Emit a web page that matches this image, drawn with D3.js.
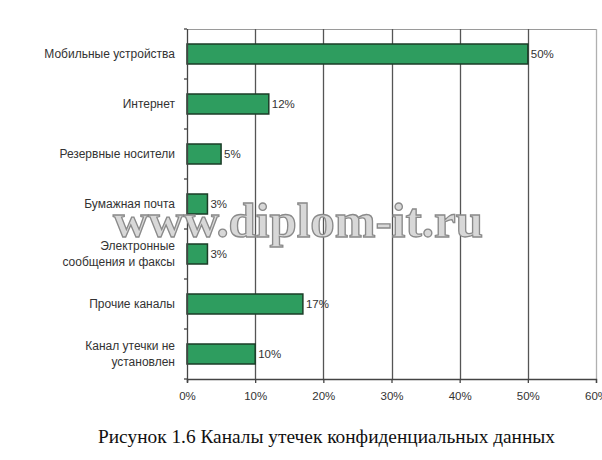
<!DOCTYPE html>
<html><head><meta charset="utf-8">
<script src="https://cdn.jsdelivr.net/npm/d3@7"></script>
<style>
html,body{margin:0;padding:0;background:#fff;}
svg{display:block;}
</style></head>
<body>
<svg id="c" width="602" height="460"></svg>
<script>
const categories = [
  ["Мобильные устройства"],
  ["Интернет"],
  ["Резервные носители"],
  ["Бумажная почта"],
  ["Электронные", "сообщения и факсы"],
  ["Прочие каналы"],
  ["Канал утечки не", "установлен"]
];
const values = [50, 12, 5, 3, 3, 17, 10];
const tickValues = [0, 10, 20, 30, 40, 50, 60];
const tickLabels = ["0%", "10%", "20%", "30%", "40%", "50%", "60%"];
const caption = "Рисунок 1.6 Каналы утечек конфиденциальных данных";
const watermark = "www.diplom-it.ru";

const svg = d3.select("#c");
const m = {left:187, top:29, right:596, bottom:379};
const x = d3.scaleLinear().domain([0, 60]).range([m.left, m.right]);
const y = d3.scaleBand().domain(d3.range(categories.length)).range([m.top, m.bottom]).paddingInner(0.6).paddingOuter(0.3);
const yb = d3.scaleBand().domain(d3.range(categories.length)).range([m.top, m.bottom]);
const sans = "Liberation Sans, Arial, sans-serif";

// top border
svg.append("line").attr("x1", m.left).attr("x2", m.right).attr("y1", m.top+0.5).attr("y2", m.top+0.5)
  .attr("stroke", "#9a9a9a").attr("stroke-width", 1.2);
// gridlines
svg.append("g").selectAll("line").data(tickValues.slice(1)).join("line")
  .attr("x1", d => Math.round(x(d))+0.5).attr("x2", d => Math.round(x(d))+0.5)
  .attr("y1", m.top).attr("y2", m.bottom)
  .attr("stroke", d => d === 60 ? "#b0b0b0" : "#555")
  .attr("stroke-width", 1.3);

// bars
svg.append("g").selectAll("rect").data(values).join("rect")
  .attr("x", x(0)).attr("y", (d,i) => y(i))
  .attr("width", d => x(d) - x(0)).attr("height", y.bandwidth())
  .attr("fill", "#2e9d5f").attr("stroke", "#1b3d27").attr("stroke-width", 1.5);

// value labels
svg.append("g").selectAll("text").data(values).join("text")
  .attr("x", d => x(d) + 3).attr("y", (d,i) => y(i) + y.bandwidth()/2)
  .attr("dy", "0.35em")
  .attr("font-family", sans).attr("font-size", 11.5)
  .attr("fill", "#333").text(d => d + "%");

// left axis
const yAxis = svg.append("g");
yAxis.append("line").attr("x1", m.left+0.5).attr("x2", m.left+0.5).attr("y1", m.top).attr("y2", m.bottom+3)
  .attr("stroke", "#444").attr("stroke-width", 1.3);
yAxis.selectAll("line.t").data(d3.range(categories.length+1)).join("line").attr("class","t")
  .attr("x1", m.left-3).attr("x2", m.left)
  .attr("y1", i => (i < categories.length ? yb(i) : m.bottom)).attr("y2", i => (i < categories.length ? yb(i) : m.bottom))
  .attr("stroke", "#444").attr("stroke-width", 1.3);
yAxis.selectAll("text").data(categories).join("text")
  .attr("x", 175)
  .attr("y", (d,i) => yb(i) + yb.bandwidth()/2)
  .attr("text-anchor", "end")
  .attr("font-family", sans).attr("font-size", 12)
  .attr("fill", "#333")
  .each(function(d){
    const t = d3.select(this);
    const n = d.length;
    d.forEach((line, k) => {
      t.append("tspan").attr("x", 175)
        .attr("dy", k === 0 ? ((0.35 - (n-1)*0.65) + "em") : "1.3em")
        .text(line);
    });
  });

// bottom axis
const xAxis = d3.axisBottom(x).tickValues(tickValues).tickFormat((d,i) => tickLabels[i]).tickSize(4).tickPadding(9);
const gx = svg.append("g").attr("transform", `translate(0,${m.bottom})`).call(xAxis);
gx.select(".domain").attr("stroke", "#444").attr("stroke-width", 1.3);
gx.selectAll(".tick line").attr("stroke", "#444").attr("stroke-width", 1.3);
gx.selectAll("text").attr("font-family", sans).attr("font-size", 11.5).attr("fill", "#333");

// watermark
svg.append("text").attr("x", 113).attr("y", 237)
  .attr("font-family", "Liberation Serif, Times New Roman, serif").attr("font-size", 48).attr("font-weight", "bold")
  .attr("textLength", 370).attr("lengthAdjust", "spacingAndGlyphs")
  .attr("fill", "#d8d8d8").attr("stroke", "#8a8a8a").attr("stroke-width", 1.3)
  .text(watermark);

// caption
svg.append("text").attr("x", 98).attr("y", 443)
  .attr("font-family", "Liberation Serif, Times New Roman, serif").attr("font-size", 19)
  .attr("textLength", 457).attr("lengthAdjust", "spacingAndGlyphs")
  .attr("fill", "#111").text(caption);
</script>
</body></html>
